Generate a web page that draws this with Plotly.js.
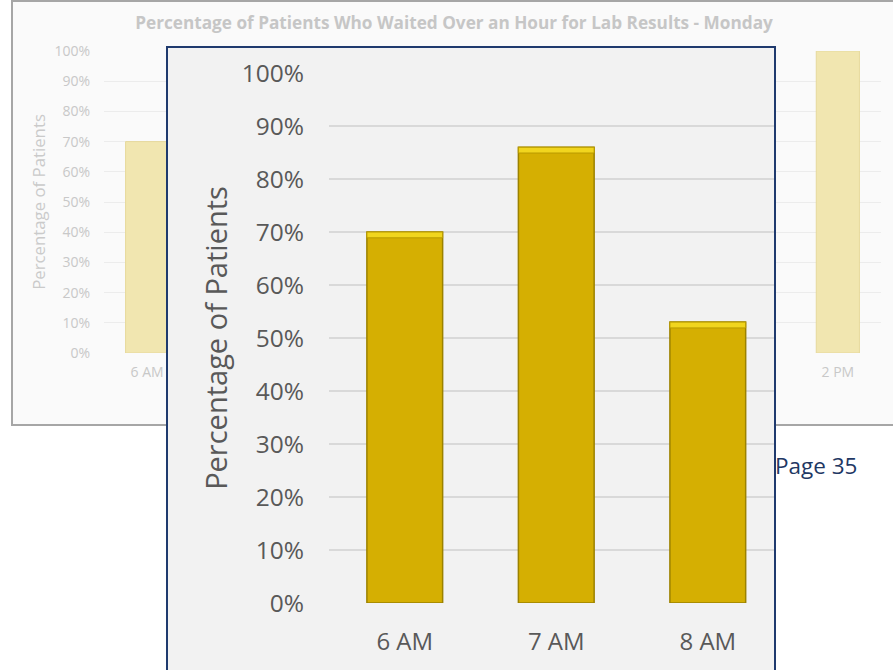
<!DOCTYPE html>
<html>
<head>
<meta charset="utf-8">
<script src="https://cdn.plot.ly/plotly-3.0.1.min.js"></script>
<style>
  html, body { margin: 0; padding: 0; background: #ffffff; overflow: hidden; }
  #page { position: relative; width: 893px; height: 670px; }
  #full { position: absolute; left: 0; top: 0; width: 893px; height: 670px; }
  #zoomBox { position: absolute; left: 166px; top: 46px; width: 606px; height: 640px;
             border: 2px solid #1f3a6e; background: #f2f2f2; overflow: hidden; }
  #zoom { width: 606px; height: 624px; }
</style>
</head>
<body>
<div id="page">
  <div id="full"></div>
  <div id="zoomBox"><div id="zoom"></div></div>
</div>
<script>
// Monday: share of patients waiting more than an hour for lab results, by hour
const hours = ['6 AM', '7 AM', '8 AM', '9 AM', '10 AM', '11 AM', '12 PM', '1 PM', '2 PM'];
const mondayShare = [0.70, 0.86, 0.53, null, null, null, null, null, 1.00];

// Close-up of the first three hours
const zoomHours = ['6 AM', '7 AM', '8 AM'];
const zoomShare = [0.70, 0.86, 0.53];

const pctTicks = [0, 0.1, 0.2, 0.3, 0.4, 0.5, 0.6, 0.7, 0.8, 0.9, 1.0];
const pctLabels = ['0%', '10%', '20%', '30%', '40%', '50%', '60%', '70%', '80%', '90%', '100%'];

const chartTitle = 'Percentage of Patients Who Waited Over an Hour for Lab Results - Monday';
const yTitle = 'Percentage of Patients';
const pageLabel = 'Page 35';

const FONT = 'Open Sans, Liberation Sans, sans-serif';

// ---------- full-day chart (faded, in the back) ----------
const fullTrace = {
  type: 'bar',
  x: hours,
  y: mondayShare,
  marker: { color: '#f1e6b0', line: { color: '#e6d99c', width: 1 } },
  hoverinfo: 'skip'
};

const fullLayout = {
  width: 893, height: 670,
  margin: { l: 104, r: 12, t: 51, b: 317 },
  paper_bgcolor: '#ffffff',
  plot_bgcolor: '#fafafa',
  showlegend: false,
  bargap: 0.5,
  title: {
    text: chartTitle,
    font: { family: FONT, size: 17.2, color: '#c6c6c6', weight: 'bold' },
    xref: 'container', yref: 'container',
    x: 454 / 893, y: 1 - 23 / 670, xanchor: 'center', yanchor: 'middle'
  },
  xaxis: {
    type: 'category',
    range: [-0.5, 8.5],
    showgrid: false, zeroline: false, showline: false, ticks: '',
    tickfont: { family: FONT, size: 14, color: '#c8c8c8' },
    ticklabelstandoff: 9,
    fixedrange: true
  },
  yaxis: {
    range: [0, 1],
    tickvals: pctTicks, ticktext: pctLabels,
    showgrid: true, gridcolor: '#ececec', gridwidth: 1,
    zeroline: false, showline: false, ticks: '',
    tickfont: { family: FONT, size: 14, color: '#c8c8c8' },
    ticklabelstandoff: 13,
    title: { text: yTitle, font: { family: FONT, size: 16.8, color: '#cacaca' }, standoff: 4 },
    fixedrange: true
  },
  shapes: [{
    type: 'rect', layer: 'below',
    xref: 'paper', yref: 'paper',
    x0: (12 - 104) / 777, x1: (905 - 104) / 777,
    y0: (353 - 425) / 302, y1: (353 - 1) / 302,
    fillcolor: '#fafafa',
    line: { color: '#a6a6a6', width: 2 }
  }],
  annotations: [{
    text: pageLabel,
    xref: 'paper', yref: 'paper',
    x: (773 - 104) / 777, y: (353 - 465) / 302,
    xanchor: 'left', yanchor: 'middle', showarrow: false,
    font: { family: FONT, size: 22.5, color: '#1f3864' }
  }]
};

Plotly.newPlot('full', [fullTrace], fullLayout, { staticPlot: true, displayModeBar: false });

// ---------- close-up chart (in front) ----------
const capDepth = 0.011;
const zoomBars = {
  type: 'bar',
  x: zoomHours,
  y: zoomShare,
  marker: { color: '#d5af02', line: { color: '#9c8200', width: 1.5 } },
  hoverinfo: 'skip'
};
// bevelled highlight along the top edge of each bar
const zoomCaps = {
  type: 'bar',
  x: zoomHours,
  y: zoomShare.map(() => capDepth),
  base: zoomShare.map(v => v - capDepth),
  marker: { color: '#f1d51e', line: { color: '#b89a00', width: 1 } },
  hoverinfo: 'skip'
};

const zoomLayout = {
  width: 606, height: 624,
  margin: { l: 161, r: 0, t: 25, b: 68.5 },
  paper_bgcolor: '#f2f2f2',
  plot_bgcolor: '#f2f2f2',
  showlegend: false,
  barmode: 'overlay',
  bargap: 0.5,
  xaxis: {
    type: 'category',
    range: [-0.5, 2.437],
    showgrid: false, zeroline: false, showline: false, ticks: '',
    tickfont: { family: FONT, size: 24, color: '#595959' },
    ticklabelstandoff: 22,
    fixedrange: true
  },
  yaxis: {
    range: [0, 1],
    tickvals: pctTicks, ticktext: pctLabels,
    showgrid: true, gridcolor: '#d9d9d9', gridwidth: 1.2,
    zeroline: false, showline: false, ticks: '',
    tickfont: { family: FONT, size: 24.5, color: '#595959' },
    ticklabelstandoff: 24,
    title: { text: yTitle, font: { family: FONT, size: 29, color: '#595959' }, standoff: 5 },
    fixedrange: true
  }
};

Plotly.newPlot('zoom', [zoomBars, zoomCaps], zoomLayout, { staticPlot: true, displayModeBar: false });
</script>
</body>
</html>
